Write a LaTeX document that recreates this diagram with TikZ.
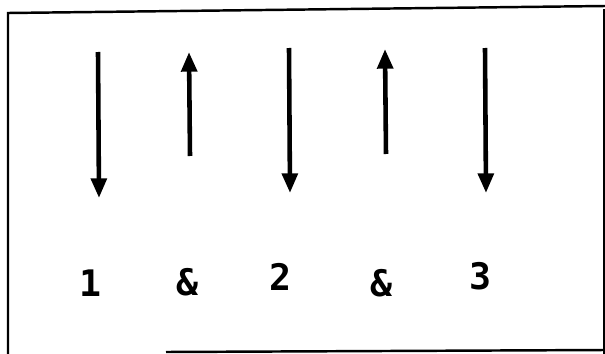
\documentclass[tikz,border=0pt]{standalone}
\usepackage{fontspec}
\setmonofont{DejaVu Sans Mono}
\usetikzlibrary{arrows.meta}

\tikzset{
  beat/.style={line width=6.5pt, -{Triangle[length=28pt,width=22pt]}},
  count/.style={font=\ttfamily\bfseries\fontsize{52}{56}\selectfont, inner sep=0pt},
  frame/.style={line width=3.5pt}
}

\begin{document}
\begin{tikzpicture}[x=0.05cm,y=-0.05cm]
  \useasboundingbox (0,0) rectangle (605,354);
  \draw[frame] (8,354) -- (8,13) -- (605,6);
  \draw[frame, line width=1.5pt] (604,9) -- (604,354);
  \draw[frame] (166,352) -- (605,350);

  \coordinate (d1a) at (98,52);  \coordinate (d1b) at (99,198);
  \coordinate (u1a) at (190,156); \coordinate (u1b) at (189,52);
  \coordinate (d2a) at (289,48); \coordinate (d2b) at (290,193);
  \coordinate (u2a) at (386,154); \coordinate (u2b) at (385,49);
  \coordinate (d3a) at (485,48); \coordinate (d3b) at (486,193);

  \draw[beat] (d1a) -- (d1b);
  \draw[beat] (u1a) -- (u1b);
  \draw[beat] (d2a) -- (d2b);
  \draw[beat] (u2a) -- (u2b);
  \draw[beat] (d3a) -- (d3b);

  \node[count] (one) at (91,283) {1};
  \node[count] (and1) at (188,282) {\&};
  \node[count] (two) at (281,277) {2};
  \node[count] (and2) at (381,283) {\&};
  \node[count] (three) at (480,276) {3};
\end{tikzpicture}
\end{document}
